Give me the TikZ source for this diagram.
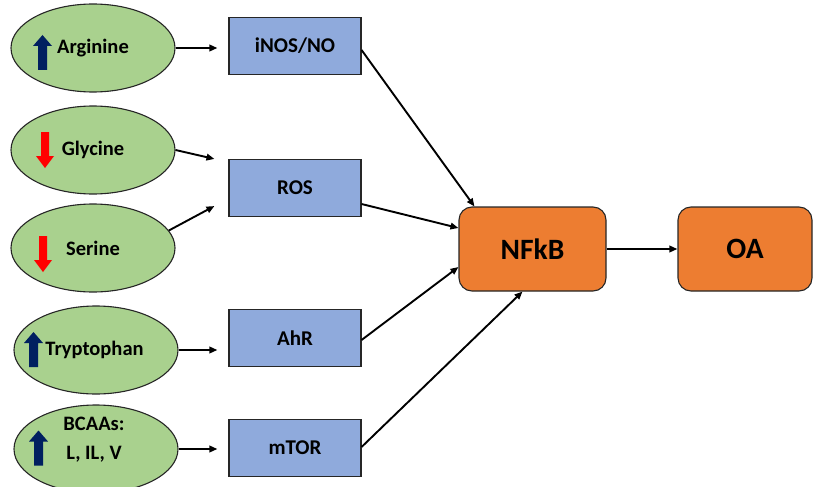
\documentclass[tikz,border=0pt]{standalone}
\usepackage{fontspec}
\setmainfont{Carlito}
\usetikzlibrary{shapes.geometric,arrows.meta}
\definecolor{leafgreen}{HTML}{A9D18E}
\definecolor{paleblue}{HTML}{8FAADC}
\definecolor{burnt}{HTML}{ED7D31}
\definecolor{navy}{HTML}{002060}
\definecolor{edge}{HTML}{262626}
\tikzset{
  acid/.style={ellipse, draw=edge, line width=1.1pt, fill=leafgreen,
    minimum width=164pt, minimum height=88pt, inner sep=0pt,
    font=\bfseries\fontsize{20.5}{29}\selectfont, align=center},
  acidtext/.style={inner sep=0pt, align=center,
    font=\bfseries\fontsize{20.5}{29}\selectfont},
  mediator/.style={rectangle, draw=edge, line width=1.1pt, fill=paleblue,
    minimum width=132pt, minimum height=57pt, inner sep=0pt,
    font=\bfseries\fontsize{21}{24}\selectfont},
  outcome/.style={rectangle, rounded corners=13pt, draw=edge, line width=1.1pt,
    fill=burnt, minimum width=147pt, minimum height=84pt, inner sep=0pt,
    font=\bfseries\fontsize{29.5}{32}\selectfont},
  link/.style={line width=1.9pt, -{Triangle[length=8pt,width=6.5pt]}},
  uparr/.pic={\fill[navy] (-4.5,17.5) -- (-4.5,-6.5) -- (-9.5,-6.5) -- (0,-17.5)
      -- (9.5,-6.5) -- (4.5,-6.5) -- (4.5,17.5) -- cycle;},
  downarr/.pic={\fill[red] (-4,-18) -- (-4,6) -- (-9,6) -- (0,18)
      -- (9,6) -- (4,6) -- (4,-18) -- cycle;}
}
\begin{document}
\begin{tikzpicture}[x=1pt,y=-1pt]
\useasboundingbox (0,0) rectangle (814,487);
\begin{scope}
\clip (0,0) rectangle (814,487);

% amino acids
\node[acid] (arg) at (93,48) {Arginine};
\node[acid] (gly) at (93,150) {Glycine};
\node[acid] (ser) at (93,248) {Serine};
\node[acid] (trp) at (96,350) {\hspace*{-3pt}Tryptophan};
\node[acid] (bca) at (96,449) {};
\node[acidtext] (bcatext) at (94,440) {BCAAs:\\L, IL, V};

\pic at (42.5,52.5) {uparr};
\pic at (45,150) {downarr};
\pic at (43,254) {downarr};
\pic at (33.5,349.5) {uparr};
\pic at (38.5,448) {uparr};

% mediators
\node[mediator] (nos)  at (295,46)  {iNOS/NO};
\node[mediator] (ros)  at (295,188) {ROS};
\node[mediator] (ahr)  at (295,338) {AhR};
\node[mediator] (mtor) at (295,448) {mTOR};

% outcomes
\node[outcome] (nf) at (532.5,249) {NFkB};
\node[outcome, minimum width=134pt] (oa) at (745,249) {OA};

% connectors
\draw[link] (arg.east) -- ([xshift=-11pt]nos.west |- arg.east);
\draw[link] (gly.east) -- ([xshift=-14pt]ros.north west);
\draw[link] (ser.13) -- ([xshift=-14pt,yshift=11pt]ros.south west);
\draw[link] (trp.east) -- ([xshift=-11pt]ahr.west |- trp.east);
\draw[link] (bca.east) -- ([xshift=-11pt]mtor.west |- bca.east);

\draw[link] ([yshift=-4pt]nos.east) -- ([xshift=16pt]nf.north west);
\draw[link] ([yshift=-16pt]ros.east) -- ([yshift=21pt]nf.west);
\draw[link] ([yshift=-2pt]ahr.east) -- ([yshift=-18pt]nf.west);
\draw[link] ([yshift=1pt]mtor.east) -- ([xshift=-10pt]nf.south);
\draw[link] (nf.east) -- (oa.west);
\end{scope}
\end{tikzpicture}
\end{document}
